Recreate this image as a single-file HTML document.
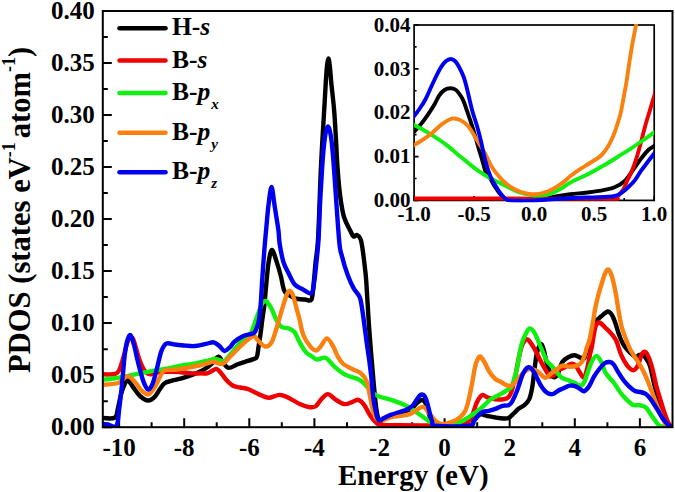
<!DOCTYPE html>
<html><head><meta charset="utf-8"><style>
html,body{margin:0;padding:0;background:#fff;width:675px;height:492px;overflow:hidden;}
svg{display:block;font-family:"Liberation Serif",serif;}
</style></head><body>
<svg width="675" height="492" viewBox="0 0 675 492">
<rect width="675" height="492" fill="#fff"/>
<path d="M119.1,427.2 V418.2 M151.6,427.2 V422.2 M184.2,427.2 V418.2 M216.7,427.2 V422.2 M249.3,427.2 V418.2 M281.8,427.2 V422.2 M314.4,427.2 V418.2 M347.0,427.2 V422.2 M379.5,427.2 V418.2 M412.1,427.2 V422.2 M444.6,427.2 V418.2 M477.2,427.2 V422.2 M509.7,427.2 V418.2 M542.3,427.2 V422.2 M574.8,427.2 V418.2 M607.4,427.2 V422.2 M639.9,427.2 V418.2 M102.8,427.2 H111.8 M102.8,401.2 H107.8 M102.8,375.2 H111.8 M102.8,349.2 H107.8 M102.8,323.1 H111.8 M102.8,297.1 H107.8 M102.8,271.1 H111.8 M102.8,245.1 H107.8 M102.8,219.1 H111.8 M102.8,193.1 H107.8 M102.8,167.1 H111.8 M102.8,141.1 H107.8 M102.8,115.0 H111.8 M102.8,89.0 H107.8 M102.8,63.0 H111.8 M102.8,37.0 H107.8 M102.8,11.0 H111.8" stroke="#000" stroke-width="2" fill="none"/>
<defs><clipPath id="cm"><rect x="102.8" y="11.0" width="569.7" height="416.2"/></clipPath>
<clipPath id="ci"><rect x="414.1" y="24.0" width="240.1" height="178.4"/></clipPath></defs>
<g clip-path="url(#cm)" fill="none" stroke-width="4.4" stroke-linejoin="round" stroke-linecap="round">
<path d="M100.0,417.8 C102.4,417.8 111.6,419.4 114.6,417.8 C117.6,416.2 116.8,412.5 118.0,408.0 C119.2,403.5 120.4,395.6 122.0,391.0 C123.6,386.4 125.6,381.1 127.4,380.4 C129.2,379.7 130.9,384.4 133.0,387.0 C135.1,389.6 137.5,393.8 140.0,396.0 C142.5,398.2 145.7,400.4 148.2,400.5 C150.7,400.6 153.0,398.5 154.9,396.6 C156.8,394.7 158.2,391.5 159.8,389.3 C161.4,387.1 162.6,384.6 164.6,383.2 C166.6,381.8 169.2,381.5 172.0,380.7 C174.8,379.9 178.2,379.3 181.7,378.3 C185.1,377.3 189.4,375.8 192.7,374.6 C195.9,373.4 198.8,372.2 201.2,371.0 C203.6,369.8 205.5,368.6 207.3,367.3 C209.1,366.1 210.2,365.2 212.0,363.5 C213.8,361.8 216.6,357.0 218.4,356.8 C220.2,356.6 221.3,360.6 223.0,362.5 C224.7,364.4 226.1,367.6 228.5,367.9 C230.9,368.2 234.9,365.3 237.7,364.3 C240.4,363.3 242.5,362.6 245.0,361.8 C247.5,361.0 250.7,360.2 252.7,359.4 C254.7,358.6 255.8,359.1 256.8,357.0 C257.8,354.9 257.9,350.8 258.5,347.0 C259.1,343.2 259.9,338.2 260.5,334.0 C261.1,329.8 261.4,326.9 262.0,322.0 C262.6,317.1 263.7,310.6 264.4,304.4 C265.1,298.2 265.5,292.1 266.2,285.0 C266.9,277.9 267.7,267.4 268.7,261.6 C269.7,255.8 270.7,250.0 272.0,250.0 C273.3,250.0 275.1,257.2 276.6,261.6 C278.1,266.0 279.9,272.3 280.9,276.2 C281.9,280.1 282.0,282.3 282.7,285.0 C283.4,287.7 283.5,290.2 285.1,292.2 C286.7,294.2 290.3,296.0 292.4,297.1 C294.5,298.2 295.7,298.6 297.8,299.0 C299.9,299.4 302.7,299.4 305.0,299.5 C307.3,299.6 310.0,302.1 311.4,299.7 C312.8,297.3 312.8,291.1 313.5,285.0 C314.2,278.9 314.8,270.5 315.5,263.0 C316.2,255.5 317.1,254.7 318.0,240.0 C318.9,225.3 319.9,191.7 320.6,175.0 C321.3,158.3 321.8,150.8 322.4,140.0 C323.0,129.2 323.6,119.7 324.2,110.0 C324.8,100.3 325.3,89.3 325.8,82.0 C326.3,74.7 326.6,69.9 327.0,66.0 C327.4,62.1 327.9,58.5 328.4,58.5 C328.9,58.5 329.3,62.1 329.8,66.0 C330.3,69.9 330.5,74.7 331.2,82.0 C331.9,89.3 333.3,100.3 334.1,110.0 C334.9,119.7 335.4,130.0 336.0,140.0 C336.6,150.0 336.9,160.3 337.7,170.0 C338.4,179.7 339.4,190.6 340.5,198.4 C341.6,206.2 342.4,211.8 344.0,217.0 C345.6,222.2 348.2,226.5 349.8,229.7 C351.4,232.9 352.3,235.5 353.5,236.4 C354.7,237.3 355.9,234.5 357.1,235.0 C358.3,235.5 359.7,236.6 360.6,239.2 C361.6,241.8 362.1,245.8 362.8,250.6 C363.5,255.3 364.3,262.5 364.9,267.7 C365.5,272.9 365.7,273.4 366.3,281.9 C366.9,290.3 367.8,307.6 368.5,318.4 C369.2,329.2 370.0,338.6 370.6,346.9 C371.2,355.2 371.8,360.5 372.4,368.0 C373.0,375.5 373.8,385.0 374.5,392.0 C375.2,399.0 375.7,405.2 376.5,410.0 C377.3,414.8 378.2,419.5 379.5,421.0 C380.8,422.5 382.1,419.8 384.0,419.0 C385.9,418.2 387.4,417.2 391.0,416.0 C394.6,414.8 402.0,412.9 405.6,411.5 C409.2,410.1 410.8,408.9 412.7,407.5 C414.6,406.1 415.5,404.2 417.0,403.0 C418.5,401.8 420.2,400.2 421.5,400.0 C422.8,399.8 423.6,400.3 424.5,401.5 C425.4,402.7 425.9,403.9 427.0,407.0 C428.1,410.1 429.5,416.9 431.0,420.0 C432.5,423.1 429.7,424.8 436.0,425.8 C442.3,426.8 462.7,426.8 469.0,425.8 C475.3,424.8 472.1,421.9 474.0,420.0 C475.9,418.1 478.0,415.2 480.2,414.5 C482.4,413.8 484.8,415.5 487.3,416.0 C489.8,416.5 492.7,417.1 495.4,417.5 C498.1,417.9 501.3,418.4 503.5,418.5 C505.7,418.6 506.9,418.8 508.6,418.0 C510.3,417.2 512.0,415.1 513.7,413.5 C515.4,411.9 517.0,409.8 518.8,408.4 C520.6,407.0 522.6,406.7 524.4,405.1 C526.1,403.5 528.0,402.1 529.3,399.0 C530.6,395.9 531.5,391.3 532.3,386.8 C533.1,382.3 533.4,377.5 534.1,372.2 C534.8,366.9 535.7,359.2 536.5,355.0 C537.3,350.8 538.2,348.5 539.0,346.7 C539.8,344.9 540.7,343.7 541.5,344.3 C542.3,344.9 543.1,347.6 543.9,350.4 C544.7,353.2 545.5,358.2 546.3,361.3 C547.1,364.4 548.0,366.4 548.8,368.7 C549.6,371.0 550.2,373.6 551.2,375.0 C552.2,376.4 553.7,377.6 554.9,377.1 C556.1,376.6 557.3,374.7 558.5,372.2 C559.7,369.7 560.6,364.5 562.3,362.0 C563.9,359.5 566.4,358.2 568.4,357.1 C570.4,356.0 572.5,355.1 574.5,355.2 C576.5,355.3 579.0,357.2 580.6,357.7 C582.2,358.2 582.7,361.2 584.3,358.3 C585.9,355.4 588.2,346.0 590.0,340.0 C591.8,334.0 593.8,325.9 595.0,322.5 C596.2,319.1 596.5,320.5 597.5,319.5 C598.5,318.5 599.8,317.5 601.0,316.5 C602.2,315.5 603.4,314.3 604.5,313.5 C605.6,312.7 606.8,311.6 607.8,311.5 C608.8,311.4 609.6,312.1 610.5,313.0 C611.4,313.9 612.2,315.2 613.0,317.0 C613.8,318.8 614.7,321.1 615.5,323.5 C616.3,325.9 617.2,329.0 618.0,331.5 C618.8,334.0 619.6,336.3 620.5,338.5 C621.4,340.7 622.4,342.7 623.5,344.5 C624.6,346.3 625.8,348.0 627.0,349.5 C628.2,351.0 629.6,352.2 631.0,353.5 C632.4,354.8 634.2,356.8 635.6,357.0 C637.0,357.2 638.1,355.3 639.3,355.0 C640.5,354.7 641.7,354.2 643.0,355.0 C644.3,355.8 645.8,358.1 647.0,360.0 C648.2,361.9 648.9,362.2 650.2,366.6 C651.5,371.0 653.2,380.5 654.7,386.2 C656.2,391.9 657.5,395.8 659.2,400.7 C660.9,405.6 663.1,411.2 664.8,415.3 C666.5,419.4 667.6,423.2 669.3,425.3 C671.0,427.4 674.0,427.6 675.0,428.0" stroke="#000000"/>
<path d="M100.0,374.0 C102.5,374.0 111.8,374.8 115.0,374.0 C118.2,373.2 118.1,372.3 119.5,369.5 C120.9,366.7 122.4,360.8 123.5,357.0 C124.6,353.2 125.2,349.9 126.0,347.0 C126.8,344.1 127.7,341.2 128.5,339.5 C129.3,337.8 130.2,336.9 131.0,337.0 C131.8,337.1 132.7,338.2 133.5,340.0 C134.3,341.8 135.1,344.9 136.0,348.0 C136.9,351.1 137.9,355.3 139.0,358.5 C140.1,361.7 141.3,364.7 142.5,367.0 C143.7,369.3 144.8,371.3 146.0,372.5 C147.2,373.7 148.3,374.3 150.0,374.3 C151.7,374.3 153.0,372.9 156.1,372.5 C159.2,372.1 164.2,371.7 168.3,371.6 C172.4,371.6 176.4,371.9 180.5,372.2 C184.6,372.5 189.2,373.2 192.7,373.4 C196.1,373.6 198.8,373.4 201.2,373.4 C203.6,373.4 205.4,373.7 207.2,373.3 C209.0,372.9 210.5,371.7 212.0,371.0 C213.5,370.3 214.8,368.6 216.3,368.9 C217.8,369.2 219.5,371.3 221.0,373.0 C222.5,374.7 223.6,376.9 225.5,379.0 C227.4,381.1 230.2,384.1 232.6,385.5 C235.0,386.9 237.3,386.9 240.0,387.5 C242.7,388.1 245.4,388.1 248.5,389.2 C251.6,390.3 255.2,392.7 258.5,394.1 C261.8,395.5 264.8,397.6 268.4,397.7 C271.9,397.8 276.2,394.8 279.8,394.9 C283.4,395.0 286.5,396.9 289.8,398.4 C293.1,399.9 296.4,402.6 299.7,404.1 C303.0,405.6 307.0,406.9 309.7,407.2 C312.4,407.5 313.8,407.5 315.7,406.2 C317.6,404.9 319.4,401.1 321.4,399.1 C323.4,397.1 325.6,394.1 327.8,394.1 C330.1,394.1 332.2,397.4 334.9,399.1 C337.6,400.8 341.1,403.6 344.1,404.1 C347.1,404.6 350.3,402.6 352.7,401.9 C355.1,401.2 356.5,399.3 358.4,399.8 C360.3,400.3 362.2,402.3 364.1,404.8 C366.0,407.3 367.8,411.9 369.7,414.7 C371.6,417.5 373.5,420.2 375.4,421.9 C377.3,423.6 376.9,424.2 381.0,424.8 C385.1,425.4 390.2,425.2 400.0,425.3 C409.8,425.4 430.0,425.5 440.0,425.5 C450.0,425.5 455.5,425.7 460.0,425.3 C464.5,424.9 465.2,424.6 467.2,423.0 C469.2,421.4 470.6,419.0 472.2,415.5 C473.8,412.0 475.3,405.4 477.0,402.0 C478.7,398.6 480.6,395.8 482.3,395.0 C484.0,394.2 485.1,396.6 487.3,397.3 C489.5,398.0 492.7,398.9 495.4,399.2 C498.1,399.5 501.3,399.5 503.5,399.2 C505.7,398.9 507.2,398.5 508.6,397.2 C510.0,395.9 510.8,393.6 511.7,391.1 C512.6,388.6 513.2,385.5 514.0,382.0 C514.8,378.5 515.7,374.2 516.5,370.0 C517.3,365.8 518.2,360.8 519.0,357.0 C519.8,353.2 520.6,349.7 521.5,347.0 C522.4,344.3 523.5,342.3 524.5,341.0 C525.5,339.7 526.2,338.8 527.4,339.4 C528.6,339.9 530.2,342.1 531.7,344.3 C533.2,346.5 535.0,349.8 536.6,352.8 C538.2,355.9 539.9,359.6 541.5,362.6 C543.1,365.7 544.9,368.8 546.3,371.1 C547.7,373.4 548.6,375.9 550.0,376.5 C551.4,377.1 553.5,375.7 554.9,374.6 C556.3,373.5 557.1,370.9 558.5,369.8 C559.9,368.7 561.4,369.0 563.5,368.0 C565.6,367.0 568.9,364.2 570.9,363.8 C572.9,363.4 574.3,364.3 575.7,365.6 C577.1,366.9 578.0,369.7 579.4,371.7 C580.8,373.7 582.5,378.1 583.8,377.5 C585.1,376.9 586.3,371.6 587.3,368.0 C588.3,364.4 588.9,359.5 589.7,355.9 C590.5,352.2 591.3,349.6 592.0,346.1 C592.7,342.6 593.1,338.4 593.8,335.0 C594.4,331.6 594.9,327.7 595.9,325.6 C596.9,323.5 597.9,322.1 599.5,322.5 C601.1,322.9 603.6,326.1 605.6,328.0 C607.6,329.9 609.9,331.9 611.7,334.1 C613.5,336.4 615.1,338.1 616.6,341.5 C618.1,344.9 619.2,350.4 621.0,354.4 C622.8,358.4 625.1,362.8 627.1,365.4 C629.1,368.0 631.4,370.2 633.2,370.2 C635.0,370.2 636.6,368.0 638.0,365.4 C639.4,362.8 640.5,356.6 641.7,354.4 C642.9,352.2 644.2,351.4 645.4,352.0 C646.6,352.6 647.8,355.2 649.0,358.0 C650.2,360.8 651.2,364.2 652.5,369.0 C653.8,373.8 655.1,381.2 656.5,386.5 C657.9,391.8 659.4,396.3 660.8,401.0 C662.2,405.7 663.7,410.8 665.0,414.5 C666.3,418.2 667.4,421.0 668.5,423.0 C669.6,425.0 670.4,425.7 671.5,426.5 C672.6,427.3 674.4,427.8 675.0,428.0" stroke="#f00000"/>
<path d="M100.0,380.0 C102.5,379.7 110.3,379.0 115.0,378.3 C119.7,377.6 123.8,376.6 128.0,375.8 C132.2,375.0 136.3,374.1 140.0,373.3 C143.7,372.6 146.3,372.0 150.0,371.3 C153.7,370.6 158.1,370.0 162.2,369.3 C166.3,368.6 170.3,367.8 174.4,367.0 C178.5,366.2 182.5,365.4 186.6,364.7 C190.7,364.0 194.9,363.4 198.8,362.6 C202.7,361.9 207.5,360.8 210.0,360.2 C212.5,359.6 212.5,358.8 214.0,358.8 C215.5,358.8 217.2,359.6 219.0,360.0 C220.8,360.4 222.6,362.0 224.5,361.0 C226.4,360.0 228.4,356.6 230.6,354.0 C232.8,351.4 235.6,347.8 237.7,345.5 C239.8,343.2 240.9,341.8 243.0,340.0 C245.1,338.2 248.3,337.0 250.0,335.0 C251.7,333.0 251.9,330.8 253.0,328.0 C254.1,325.2 255.4,321.0 256.5,318.0 C257.6,315.0 258.5,312.5 259.5,310.0 C260.5,307.5 261.4,304.5 262.5,303.0 C263.6,301.5 264.9,300.9 265.9,301.0 C266.9,301.1 267.5,302.5 268.5,303.8 C269.5,305.1 270.3,306.2 271.7,309.0 C273.1,311.8 275.0,317.5 276.6,320.5 C278.2,323.5 279.5,325.5 281.5,326.8 C283.5,328.1 286.6,327.6 288.8,328.5 C291.0,329.4 293.0,330.2 294.5,332.0 C296.0,333.8 296.8,336.6 298.0,339.0 C299.2,341.4 300.6,344.2 302.0,346.5 C303.4,348.8 304.5,350.8 306.2,352.5 C307.9,354.2 310.2,355.3 312.0,356.5 C313.8,357.7 314.8,359.3 317.1,359.5 C319.4,359.7 322.8,356.7 325.6,357.8 C328.5,358.9 330.9,363.5 334.2,366.4 C337.5,369.2 341.6,372.8 345.6,374.9 C349.6,377.0 355.1,377.5 358.4,379.2 C361.7,380.9 363.4,382.8 365.5,384.9 C367.6,387.0 369.1,390.1 371.2,392.0 C373.3,393.9 374.9,395.0 378.3,396.3 C381.7,397.6 386.8,398.3 391.3,399.8 C395.9,401.3 401.3,403.4 405.6,405.5 C409.9,407.6 413.3,410.2 416.9,412.6 C420.4,415.0 424.4,418.0 426.9,419.7 C429.4,421.4 429.8,422.1 432.0,423.0 C434.2,423.9 437.3,424.5 440.0,424.8 C442.7,425.1 444.9,425.1 448.3,424.6 C451.7,424.1 457.1,423.1 460.5,421.8 C463.9,420.5 465.9,419.0 469.0,417.0 C472.1,415.0 475.9,412.2 478.8,410.0 C481.7,407.8 484.2,405.3 486.1,403.6 C488.0,401.9 487.9,401.2 490.3,399.6 C492.7,398.0 497.4,395.9 500.5,394.1 C503.6,392.4 506.7,390.4 508.6,389.1 C510.5,387.8 510.8,388.3 511.7,386.5 C512.6,384.7 513.3,381.7 514.3,378.3 C515.3,374.9 516.4,371.6 517.5,366.1 C518.6,360.6 519.8,351.0 521.2,345.5 C522.6,340.0 524.5,336.2 526.0,333.3 C527.5,330.4 528.4,328.4 529.9,328.4 C531.4,328.4 533.3,330.9 534.8,333.3 C536.3,335.7 537.7,339.9 539.0,343.0 C540.3,346.1 541.5,348.8 542.7,351.6 C543.9,354.5 544.9,357.8 546.3,360.1 C547.7,362.4 549.6,363.7 551.2,365.5 C552.8,367.3 554.5,369.0 556.1,371.0 C557.8,373.0 559.2,375.8 561.1,377.3 C563.0,378.8 565.0,378.9 567.2,379.8 C569.4,380.7 572.3,381.8 574.5,382.8 C576.7,383.8 579.0,385.7 580.6,385.6 C582.2,385.5 583.1,384.3 584.3,382.0 C585.5,379.7 586.7,375.0 587.9,371.7 C589.1,368.4 590.2,364.6 591.6,362.0 C593.0,359.4 594.9,355.9 596.5,355.9 C598.1,355.9 599.9,359.4 601.3,362.0 C602.7,364.6 603.5,368.9 605.0,371.7 C606.5,374.4 608.5,376.7 610.0,378.5 C611.5,380.3 612.4,380.8 613.7,382.5 C615.0,384.2 616.4,386.7 618.0,389.0 C619.6,391.3 621.0,393.7 623.4,396.3 C625.8,398.9 629.8,403.1 632.4,404.6 C635.0,406.1 636.9,404.7 639.1,405.2 C641.3,405.7 643.8,405.7 645.8,407.4 C647.8,409.1 649.5,412.7 651.4,415.3 C653.3,417.9 655.3,421.2 657.0,423.1 C658.7,425.0 658.5,425.7 661.5,426.5 C664.5,427.3 672.8,427.8 675.0,428.0" stroke="#10f010"/>
<path d="M100.0,385.0 C103.0,384.7 113.4,384.5 118.0,383.0 C122.6,381.5 124.6,376.3 127.4,376.1 C130.2,375.9 132.7,379.7 135.0,382.0 C137.3,384.3 138.8,387.9 141.0,390.0 C143.2,392.1 145.9,394.9 148.2,394.4 C150.5,393.9 153.0,389.7 154.9,386.8 C156.8,383.9 158.2,379.8 159.8,377.1 C161.4,374.4 162.2,371.6 164.6,370.4 C167.0,369.2 170.7,370.2 174.4,369.8 C178.1,369.4 182.5,368.6 186.6,367.9 C190.7,367.2 195.2,366.3 198.8,365.5 C202.5,364.7 206.1,363.6 208.5,363.0 C210.9,362.4 211.0,361.7 213.3,361.8 C215.6,361.9 219.5,364.7 222.4,363.8 C225.3,362.9 227.7,359.0 230.6,356.2 C233.5,353.4 236.9,349.7 239.7,347.0 C242.5,344.3 245.2,341.7 247.6,339.9 C250.0,338.1 252.3,335.9 254.0,336.0 C255.7,336.1 256.1,338.8 258.0,340.5 C259.9,342.2 263.1,346.2 265.4,346.5 C267.6,346.8 269.7,345.2 271.5,342.5 C273.3,339.8 274.7,334.1 276.0,330.0 C277.3,325.9 278.2,322.3 279.5,318.0 C280.8,313.7 282.2,308.4 283.5,304.4 C284.8,300.4 286.0,296.2 287.0,294.0 C288.0,291.8 288.5,291.0 289.4,291.0 C290.3,291.0 291.6,292.2 292.5,294.0 C293.4,295.8 294.1,299.0 294.9,302.0 C295.7,305.0 296.8,309.3 297.5,312.0 C298.2,314.7 298.3,314.5 299.3,318.4 C300.3,322.3 301.6,330.8 303.5,335.5 C305.4,340.2 308.5,344.4 310.6,346.9 C312.7,349.4 314.6,350.6 316.3,350.5 C318.0,350.4 319.2,348.0 321.0,346.0 C322.8,344.0 324.9,338.2 327.0,338.4 C329.1,338.5 331.7,344.1 333.4,346.9 C335.1,349.7 335.4,352.2 337.0,355.0 C338.6,357.8 340.1,361.1 342.7,363.5 C345.3,365.9 349.6,367.5 352.7,369.2 C355.8,370.9 358.8,371.4 361.2,373.5 C363.6,375.6 365.5,378.4 366.9,382.0 C368.3,385.6 368.8,390.3 369.7,394.8 C370.6,399.3 371.6,405.1 372.6,409.0 C373.7,412.9 374.6,416.1 376.0,418.0 C377.4,419.9 378.4,420.6 381.0,420.5 C383.6,420.4 386.5,418.3 391.3,417.2 C396.1,416.1 404.6,415.8 409.8,414.1 C415.0,412.4 419.3,406.9 422.6,406.9 C425.9,406.9 427.4,411.7 429.7,414.1 C431.9,416.5 434.0,419.8 436.1,421.5 C438.2,423.2 439.6,424.1 442.2,424.2 C444.8,424.2 448.9,423.0 452.0,421.8 C455.1,420.6 458.3,418.7 460.5,416.8 C462.7,414.9 464.0,413.6 465.4,410.5 C466.8,407.4 467.9,403.2 469.0,398.5 C470.1,393.8 471.3,387.3 472.3,382.2 C473.3,377.1 474.0,371.7 474.8,368.0 C475.6,364.3 476.4,361.9 477.3,360.0 C478.2,358.1 478.9,356.2 480.1,356.5 C481.3,356.8 482.9,359.5 484.4,362.0 C485.9,364.5 487.5,368.9 489.3,371.7 C491.1,374.5 493.6,377.4 495.4,379.0 C497.2,380.6 498.4,380.5 500.2,381.5 C502.0,382.5 504.5,384.4 506.3,385.1 C508.1,385.8 509.6,386.3 511.2,385.7 C512.8,385.1 514.3,383.4 516.1,381.5 C517.9,379.6 520.0,376.0 522.0,374.0 C524.0,372.0 526.2,370.2 528.0,369.5 C529.8,368.8 531.4,369.2 533.0,369.5 C534.6,369.8 535.8,370.1 537.8,371.5 C539.8,372.9 542.9,377.4 545.1,377.7 C547.3,378.0 549.2,374.8 551.2,373.4 C553.2,372.0 555.4,370.4 557.3,369.1 C559.1,367.8 560.2,366.0 562.3,365.6 C564.3,365.2 567.1,366.8 569.6,366.8 C572.1,366.8 575.0,366.4 577.0,365.6 C579.0,364.8 580.5,363.8 581.8,362.0 C583.1,360.2 583.8,357.5 584.7,355.0 C585.6,352.5 586.2,349.5 587.0,347.0 C587.8,344.5 588.6,343.8 589.5,340.0 C590.4,336.2 591.5,329.7 592.5,324.4 C593.5,319.1 594.3,313.1 595.3,308.0 C596.3,302.9 597.4,298.5 598.6,294.0 C599.8,289.5 601.4,284.6 602.5,281.0 C603.6,277.4 604.6,274.4 605.5,272.5 C606.4,270.6 607.2,269.5 608.0,269.5 C608.8,269.5 609.7,270.8 610.5,272.5 C611.3,274.2 612.1,276.8 612.9,280.0 C613.7,283.2 614.7,288.0 615.5,292.0 C616.3,296.0 616.9,300.2 617.5,304.0 C618.1,307.8 618.6,311.2 619.3,315.0 C620.0,318.8 620.7,323.3 621.7,327.0 C622.7,330.7 623.7,333.3 625.1,337.0 C626.5,340.7 628.4,345.7 630.0,349.0 C631.6,352.3 633.4,354.5 634.9,357.0 C636.4,359.5 637.8,361.4 639.3,364.0 C640.8,366.6 642.6,369.5 644.1,372.7 C645.6,375.9 647.3,379.9 648.5,383.0 C649.7,386.1 650.4,388.1 651.5,391.0 C652.6,393.9 653.7,396.8 655.2,400.7 C656.7,404.6 659.0,410.4 660.6,414.1 C662.2,417.8 663.8,421.0 665.0,423.1 C666.2,425.2 666.3,425.7 668.0,426.5 C669.7,427.3 673.8,427.8 675.0,428.0" stroke="#fa8010"/>
<path d="M100.0,423.7 C101.3,423.8 105.2,424.1 108.0,424.5 C110.8,424.9 114.6,428.6 116.5,425.8 C118.4,423.1 118.5,414.0 119.3,408.0 C120.1,402.0 120.7,396.3 121.4,390.0 C122.1,383.7 122.7,376.2 123.3,370.0 C123.9,363.8 124.3,357.8 125.0,353.0 C125.7,348.2 126.3,344.0 127.2,341.0 C128.1,338.0 129.4,334.3 130.5,335.0 C131.6,335.7 132.9,341.2 134.0,345.0 C135.1,348.8 136.0,353.8 137.0,358.0 C138.0,362.2 138.8,365.8 140.0,370.0 C141.2,374.2 142.6,379.8 144.0,383.0 C145.4,386.2 146.8,389.3 148.2,389.5 C149.6,389.7 151.1,387.4 152.5,384.0 C153.9,380.6 155.7,373.2 156.8,369.0 C157.9,364.8 158.5,361.7 159.3,358.5 C160.1,355.3 160.6,352.5 161.8,350.0 C163.0,347.5 164.3,344.4 166.5,343.5 C168.7,342.6 171.8,344.1 175.0,344.5 C178.2,344.9 182.2,345.4 185.5,345.6 C188.8,345.9 191.6,346.3 195.0,346.0 C198.4,345.7 203.1,344.4 206.2,343.8 C209.3,343.2 211.5,341.9 213.7,342.3 C215.9,342.7 217.6,344.6 219.4,346.0 C221.2,347.4 222.6,350.9 224.5,351.0 C226.4,351.1 228.9,348.1 230.6,346.5 C232.2,344.9 232.3,343.4 234.4,341.7 C236.5,340.0 240.1,337.5 242.9,336.2 C245.8,334.9 249.6,334.4 251.5,333.8 C253.4,333.2 253.7,333.5 254.6,332.4 C255.5,331.3 256.3,329.1 257.0,327.0 C257.7,324.9 258.3,323.8 258.9,320.0 C259.5,316.2 260.1,311.1 260.7,304.4 C261.2,297.7 261.6,289.2 262.2,280.0 C262.8,270.8 263.7,258.1 264.4,249.4 C265.1,240.7 265.6,235.4 266.3,228.0 C267.0,220.6 267.6,211.8 268.5,205.0 C269.4,198.2 270.5,187.0 271.5,187.0 C272.5,187.0 273.4,197.8 274.5,205.0 C275.6,212.2 277.5,223.6 278.4,230.0 C279.2,236.4 278.8,238.0 279.6,243.3 C280.4,248.6 281.8,256.5 283.3,261.6 C284.8,266.7 286.9,269.9 288.8,273.8 C290.8,277.7 292.8,282.3 295.0,284.8 C297.2,287.3 299.4,287.6 302.1,289.0 C304.8,290.4 309.4,294.5 311.4,293.3 C313.4,292.1 313.4,287.0 314.2,282.0 C315.0,277.0 315.6,270.4 316.3,263.4 C317.0,256.4 317.9,249.7 318.5,240.0 C319.1,230.3 319.4,216.7 320.0,205.0 C320.6,193.3 321.4,179.2 322.0,170.0 C322.6,160.8 323.0,155.5 323.5,150.0 C324.0,144.5 324.5,140.4 325.0,137.0 C325.5,133.6 326.0,131.2 326.5,129.5 C327.0,127.8 327.5,126.5 328.0,126.5 C328.5,126.5 329.0,127.8 329.5,129.5 C330.0,131.2 330.5,133.6 331.0,137.0 C331.5,140.4 332.0,144.5 332.5,150.0 C333.0,155.5 333.0,155.0 334.1,170.0 C335.2,185.0 337.8,225.6 339.1,240.0 C340.4,254.4 340.6,250.5 342.0,256.3 C343.4,262.1 345.7,269.6 347.6,274.8 C349.5,280.0 351.5,284.3 353.3,287.6 C355.1,290.9 357.1,292.6 358.3,294.7 C359.5,296.8 359.7,296.1 360.6,300.0 C361.5,303.9 362.6,311.8 363.5,318.4 C364.4,325.0 365.4,332.9 366.3,339.8 C367.2,346.7 368.4,353.9 369.2,360.0 C370.0,366.1 370.5,370.0 371.2,376.3 C371.9,382.6 372.6,392.1 373.3,397.7 C374.0,403.3 374.8,406.6 375.5,410.0 C376.2,413.4 376.8,416.2 377.5,418.0 C378.2,419.8 378.4,420.5 379.5,420.5 C380.6,420.5 382.0,419.0 384.0,418.0 C386.0,417.0 387.7,415.9 391.3,414.6 C394.9,413.3 402.0,411.5 405.6,410.0 C409.2,408.5 410.9,407.2 412.7,405.5 C414.5,403.8 415.4,401.6 416.5,400.0 C417.6,398.4 418.6,396.6 419.5,395.7 C420.4,394.8 421.2,394.4 422.0,394.5 C422.8,394.6 423.7,394.8 424.5,396.0 C425.3,397.2 426.2,399.3 427.0,402.0 C427.8,404.7 428.7,408.8 429.5,412.0 C430.3,415.2 430.9,418.7 432.0,421.0 C433.1,423.3 429.8,425.0 436.0,425.8 C442.2,426.6 462.7,426.6 469.0,425.8 C475.3,425.0 472.3,422.8 473.9,421.0 C475.5,419.2 477.2,416.4 478.8,414.8 C480.4,413.2 482.1,412.2 483.7,411.6 C485.3,411.0 486.4,411.3 488.3,410.9 C490.2,410.4 493.0,409.8 495.4,408.9 C497.8,408.0 500.3,406.4 502.5,405.8 C504.7,405.2 507.0,406.0 508.6,405.3 C510.2,404.6 510.8,404.0 512.2,401.5 C513.6,399.0 515.3,395.2 517.1,390.5 C518.9,385.8 521.3,377.3 523.2,373.4 C525.1,369.5 526.9,367.5 528.7,367.3 C530.5,367.1 532.2,369.4 534.1,372.2 C536.0,375.0 538.2,381.0 540.2,384.4 C542.2,387.8 544.3,390.7 546.3,392.3 C548.3,393.9 550.4,394.4 552.4,394.1 C554.4,393.8 556.9,391.4 558.5,390.5 C560.1,389.6 560.4,389.6 562.3,388.8 C564.1,388.0 567.4,386.1 569.6,385.7 C571.8,385.3 573.9,385.7 575.7,386.3 C577.5,386.9 579.2,388.6 580.6,389.4 C582.0,390.2 582.9,391.7 584.3,391.2 C585.7,390.7 587.5,388.7 589.1,386.3 C590.7,383.9 592.2,379.7 594.0,376.6 C595.8,373.6 598.3,370.3 600.1,368.0 C601.9,365.7 603.4,364.0 605.0,363.0 C606.6,362.0 608.4,361.8 609.9,362.0 C611.4,362.2 612.3,362.7 613.7,364.5 C615.1,366.3 616.9,370.1 618.5,372.7 C620.1,375.3 621.6,377.6 623.4,380.0 C625.2,382.4 627.6,385.0 629.5,386.8 C631.4,388.6 632.7,389.9 634.5,390.8 C636.3,391.7 638.5,391.6 640.2,392.0 C642.0,392.4 643.6,392.8 645.0,393.5 C646.4,394.2 647.2,395.1 648.5,396.5 C649.8,397.9 650.9,399.4 652.5,401.8 C654.1,404.2 656.2,407.8 658.1,410.8 C660.0,413.8 661.8,417.2 663.7,419.7 C665.6,422.2 667.4,424.5 669.3,425.9 C671.2,427.3 674.0,427.6 675.0,428.0" stroke="#0000f0"/>
</g>
<rect x="102.8" y="11.0" width="569.7" height="416.2" fill="none" stroke="#000" stroke-width="2"/>
<rect x="414.1" y="25.0" width="240.1" height="175.4" fill="#fff"/>
<path d="M414.1,200.4 V195.9 M444.1,200.4 V197.9 M474.1,200.4 V195.9 M504.1,200.4 V197.9 M534.2,200.4 V195.9 M564.2,200.4 V197.9 M594.2,200.4 V195.9 M624.2,200.4 V197.9 M654.2,200.4 V195.9 M414.1,200.4 H418.6 M414.1,178.5 H416.6 M414.1,156.6 H418.6 M414.1,134.6 H416.6 M414.1,112.7 H418.6 M414.1,90.8 H416.6 M414.1,68.9 H418.6 M414.1,46.9 H416.6 M414.1,25.0 H418.6" stroke="#000" stroke-width="1.6" fill="none"/>
<rect x="414.1" y="25.0" width="240.1" height="175.4" fill="none" stroke="#000" stroke-width="1.7"/>
<g clip-path="url(#ci)" fill="none" stroke-width="3.9" stroke-linejoin="round" stroke-linecap="round">
<path d="M410.0,134.0 C410.7,133.6 412.5,133.1 414.1,131.7 C415.7,130.3 417.6,128.2 419.8,125.6 C422.0,123.0 424.7,119.4 427.1,115.9 C429.5,112.4 432.4,107.9 434.4,104.5 C436.4,101.1 437.6,97.7 439.3,95.3 C441.0,92.9 442.6,91.2 444.5,90.0 C446.4,88.8 448.6,88.3 450.5,88.3 C452.4,88.3 454.3,88.8 456.0,90.0 C457.7,91.2 459.2,93.6 460.5,95.5 C461.8,97.4 462.6,98.8 463.7,101.5 C464.8,104.2 466.1,108.2 467.3,111.7 C468.5,115.2 469.8,119.0 471.0,122.7 C472.2,126.4 473.4,129.9 474.6,134.0 C475.8,138.1 477.1,143.0 478.3,147.2 C479.5,151.4 480.8,155.3 482.0,159.4 C483.2,163.5 484.2,168.4 485.6,171.6 C487.0,174.8 488.8,176.0 490.3,178.5 C491.8,181.0 493.3,184.1 494.8,186.5 C496.3,188.9 497.9,191.2 499.3,193.0 C500.8,194.8 501.7,196.4 503.5,197.5 C505.3,198.6 503.9,199.2 510.0,199.6 C516.1,199.9 532.6,200.1 540.0,199.6 C547.4,199.1 549.2,197.6 554.2,196.7 C559.2,195.8 564.5,195.0 570.0,194.3 C575.5,193.6 581.5,193.2 587.3,192.5 C593.0,191.8 600.0,190.8 604.5,189.9 C609.0,189.0 611.3,188.8 614.6,187.3 C617.9,185.9 621.4,184.0 624.4,181.2 C627.4,178.3 630.0,174.1 632.9,170.2 C635.8,166.3 638.9,161.4 641.5,158.0 C644.1,154.6 646.7,151.5 648.8,149.5 C650.9,147.5 652.3,147.5 654.2,145.9 C656.1,144.3 659.0,141.0 660.0,140.0" stroke="#000000"/>
<path d="M410.0,198.5 C410.7,198.5 399.1,198.5 414.1,198.5 C429.1,198.5 467.7,198.4 500.0,198.5 C532.3,198.6 589.0,198.8 608.0,198.8 C627.0,198.8 612.3,199.0 614.0,198.5 C615.7,198.0 616.8,197.1 618.0,196.0 C619.2,194.9 620.4,193.5 621.5,192.0 C622.6,190.5 623.5,189.0 624.5,187.0 C625.5,185.0 626.3,182.6 627.5,180.0 C628.7,177.4 630.2,175.2 631.7,171.5 C633.2,167.8 635.0,162.9 636.5,158.0 C638.0,153.1 639.6,147.3 641.0,142.2 C642.4,137.1 643.4,132.5 644.8,127.4 C646.2,122.3 647.9,116.8 649.5,111.6 C651.1,106.4 652.5,101.6 654.2,96.0 C656.0,90.4 659.0,81.0 660.0,78.0" stroke="#f00000"/>
<path d="M410.0,123.0 C410.7,123.3 412.1,124.0 414.1,125.0 C416.1,126.0 418.8,127.4 422.2,129.3 C425.6,131.2 430.3,134.0 434.4,136.6 C438.5,139.2 442.5,141.9 446.6,145.1 C450.7,148.2 455.1,152.3 459.0,155.5 C462.9,158.7 466.4,161.6 469.8,164.3 C473.2,167.0 476.2,169.4 479.5,171.6 C482.8,173.8 486.1,175.9 489.3,177.7 C492.6,179.5 495.8,181.0 499.0,182.6 C502.2,184.2 505.5,185.8 508.8,187.4 C512.1,189.0 514.5,190.8 518.7,192.2 C522.9,193.5 529.2,195.1 534.1,195.5 C539.0,195.9 543.8,195.6 548.3,194.4 C552.8,193.2 557.7,190.4 561.4,188.4 C565.1,186.4 566.2,184.8 570.5,182.5 C574.8,180.2 581.6,177.4 587.3,174.5 C593.0,171.6 599.3,168.0 604.5,165.0 C609.7,162.0 614.0,159.2 618.3,156.5 C622.6,153.8 626.4,151.5 630.5,148.8 C634.6,146.1 638.8,143.2 642.7,140.5 C646.7,137.8 651.3,134.4 654.2,132.5 C657.1,130.6 659.0,129.6 660.0,129.0" stroke="#10f010"/>
<path d="M410.0,148.0 C410.7,147.5 412.1,146.4 414.1,145.1 C416.1,143.8 419.2,142.2 422.2,140.2 C425.2,138.2 428.8,135.5 432.0,132.9 C435.2,130.3 438.4,126.8 441.7,124.4 C445.0,122.0 448.9,119.3 452.0,118.6 C455.1,117.9 457.6,119.1 460.0,120.0 C462.4,120.9 464.3,122.5 466.1,124.2 C467.9,125.9 469.4,127.6 471.0,130.0 C472.6,132.4 474.7,136.4 475.9,138.5 C477.1,140.6 476.7,139.6 478.3,142.3 C479.9,145.0 483.4,150.4 485.6,154.5 C487.8,158.6 489.5,163.0 491.7,166.7 C493.9,170.4 496.6,173.7 499.0,176.5 C501.4,179.3 503.9,181.8 506.3,183.8 C508.8,185.8 511.4,187.4 513.7,188.7 C516.0,190.0 516.6,190.7 520.0,191.6 C523.4,192.5 529.4,194.4 534.1,194.3 C538.8,194.2 543.8,193.1 548.3,191.3 C552.8,189.5 557.7,186.2 561.4,183.7 C565.1,181.1 567.6,178.3 570.5,176.0 C573.4,173.7 575.2,172.3 578.6,170.1 C582.0,167.8 587.0,164.9 590.7,162.5 C594.5,160.1 598.2,158.2 601.1,155.5 C604.0,152.8 606.0,149.8 608.0,146.5 C610.0,143.2 611.6,139.8 613.2,136.0 C614.8,132.2 616.2,127.9 617.5,123.8 C618.8,119.7 619.9,116.7 621.0,111.6 C622.1,106.5 623.4,98.6 624.4,93.3 C625.4,88.0 626.0,85.1 626.8,80.0 C627.6,74.9 628.4,68.6 629.3,62.7 C630.2,56.8 631.2,50.7 632.3,44.4 C633.4,38.1 635.2,29.4 636.0,25.0 C636.8,20.6 636.8,19.2 637.0,18.0" stroke="#fa8010"/>
<path d="M410.0,121.0 C410.7,120.2 412.5,118.1 414.1,116.0 C415.7,113.9 417.8,111.4 419.8,108.5 C421.8,105.6 423.7,102.8 425.9,98.5 C428.1,94.2 430.8,87.6 433.2,82.5 C435.6,77.4 438.4,71.5 440.5,68.0 C442.6,64.5 443.8,63.0 445.5,61.5 C447.2,60.0 449.2,59.0 450.9,59.0 C452.6,59.0 454.2,60.2 455.5,61.5 C456.8,62.8 457.4,63.9 458.8,66.5 C460.2,69.1 462.3,73.1 463.7,77.0 C465.1,80.9 465.9,84.4 467.3,90.0 C468.7,95.6 470.6,104.5 472.2,110.5 C473.8,116.5 475.7,121.4 477.1,126.3 C478.5,131.2 479.3,134.1 480.7,140.0 C482.1,145.9 484.0,155.7 485.6,161.8 C487.2,167.9 488.9,172.6 490.5,176.5 C492.1,180.4 493.8,182.8 495.4,185.5 C497.0,188.2 498.6,190.8 500.2,193.0 C501.8,195.2 503.4,197.3 505.0,198.5 C506.6,199.7 505.8,200.1 510.0,200.4 C514.2,200.8 524.2,200.7 530.0,200.6 C535.8,200.5 539.0,200.2 545.0,199.8 C551.0,199.4 556.2,198.8 566.1,198.3 C576.0,197.8 596.4,197.4 604.5,197.0 C612.6,196.6 612.0,196.8 614.9,196.0 C617.8,195.2 619.8,193.8 621.8,192.5 C623.8,191.2 624.8,190.4 626.8,188.5 C628.8,186.6 631.6,184.2 634.1,181.2 C636.6,178.1 639.0,173.6 641.5,170.2 C644.0,166.8 646.7,163.3 648.8,160.5 C650.9,157.7 652.3,155.9 654.2,153.5 C656.1,151.1 659.0,147.2 660.0,146.0" stroke="#0000f0"/>
</g>
<text x="119.1" y="456.0" font-family="Liberation Serif" font-weight="bold" font-size="25" text-anchor="middle">-10</text>
<text x="184.2" y="456.0" font-family="Liberation Serif" font-weight="bold" font-size="25" text-anchor="middle">-8</text>
<text x="249.3" y="456.0" font-family="Liberation Serif" font-weight="bold" font-size="25" text-anchor="middle">-6</text>
<text x="314.4" y="456.0" font-family="Liberation Serif" font-weight="bold" font-size="25" text-anchor="middle">-4</text>
<text x="379.5" y="456.0" font-family="Liberation Serif" font-weight="bold" font-size="25" text-anchor="middle">-2</text>
<text x="444.6" y="456.0" font-family="Liberation Serif" font-weight="bold" font-size="25" text-anchor="middle">0</text>
<text x="509.7" y="456.0" font-family="Liberation Serif" font-weight="bold" font-size="25" text-anchor="middle">2</text>
<text x="574.8" y="456.0" font-family="Liberation Serif" font-weight="bold" font-size="25" text-anchor="middle">4</text>
<text x="639.9" y="456.0" font-family="Liberation Serif" font-weight="bold" font-size="25" text-anchor="middle">6</text>
<text x="94.7" y="434.7" font-family="Liberation Serif" font-weight="bold" font-size="25" text-anchor="end">0.00</text>
<text x="94.7" y="382.7" font-family="Liberation Serif" font-weight="bold" font-size="25" text-anchor="end">0.05</text>
<text x="94.7" y="330.6" font-family="Liberation Serif" font-weight="bold" font-size="25" text-anchor="end">0.10</text>
<text x="94.7" y="278.6" font-family="Liberation Serif" font-weight="bold" font-size="25" text-anchor="end">0.15</text>
<text x="94.7" y="226.6" font-family="Liberation Serif" font-weight="bold" font-size="25" text-anchor="end">0.20</text>
<text x="94.7" y="174.6" font-family="Liberation Serif" font-weight="bold" font-size="25" text-anchor="end">0.25</text>
<text x="94.7" y="122.5" font-family="Liberation Serif" font-weight="bold" font-size="25" text-anchor="end">0.30</text>
<text x="94.7" y="70.5" font-family="Liberation Serif" font-weight="bold" font-size="25" text-anchor="end">0.35</text>
<text x="94.7" y="18.5" font-family="Liberation Serif" font-weight="bold" font-size="25" text-anchor="end">0.40</text>
<text x="414.1" y="220.8" font-family="Liberation Serif" font-weight="bold" font-size="21" text-anchor="middle">-1.0</text>
<text x="474.1" y="220.8" font-family="Liberation Serif" font-weight="bold" font-size="21" text-anchor="middle">-0.5</text>
<text x="534.2" y="220.8" font-family="Liberation Serif" font-weight="bold" font-size="21" text-anchor="middle">0.0</text>
<text x="594.2" y="220.8" font-family="Liberation Serif" font-weight="bold" font-size="21" text-anchor="middle">0.5</text>
<text x="654.2" y="220.8" font-family="Liberation Serif" font-weight="bold" font-size="21" text-anchor="middle">1.0</text>
<text x="410.5" y="207.0" font-family="Liberation Serif" font-weight="bold" font-size="21" text-anchor="end">0.00</text>
<text x="410.5" y="163.2" font-family="Liberation Serif" font-weight="bold" font-size="21" text-anchor="end">0.01</text>
<text x="410.5" y="119.3" font-family="Liberation Serif" font-weight="bold" font-size="21" text-anchor="end">0.02</text>
<text x="410.5" y="75.5" font-family="Liberation Serif" font-weight="bold" font-size="21" text-anchor="end">0.03</text>
<text x="410.5" y="31.6" font-family="Liberation Serif" font-weight="bold" font-size="21" text-anchor="end">0.04</text>
<text x="338.0" y="484.6" font-family="Liberation Serif" font-weight="bold" font-size="29">Energy (eV)</text>
<text transform="translate(30.1,373.0) rotate(-90)" font-family="Liberation Serif" font-weight="bold" font-size="30.6">PDOS (states eV<tspan dy="-15" font-size="18">-1</tspan><tspan dy="15" dx="4">atom</tspan><tspan dy="-15" font-size="18">-1</tspan><tspan dy="15">)</tspan></text>
<line x1="119.5" y1="28.3" x2="165.5" y2="28.3" stroke="#000000" stroke-width="4.5" stroke-linecap="round"/>
<text x="172.0" y="35.3" font-family="Liberation Serif" font-weight="bold" font-size="25.5">H-<tspan font-style="italic">s</tspan></text>
<line x1="119.5" y1="60.5" x2="165.5" y2="60.5" stroke="#f00000" stroke-width="4.5" stroke-linecap="round"/>
<text x="172.0" y="67.5" font-family="Liberation Serif" font-weight="bold" font-size="25.5">B-<tspan font-style="italic">s</tspan></text>
<line x1="119.5" y1="92.9" x2="165.5" y2="92.9" stroke="#10f010" stroke-width="4.5" stroke-linecap="round"/>
<text x="172.0" y="99.9" font-family="Liberation Serif" font-weight="bold" font-size="25.5">B-<tspan font-style="italic">p</tspan><tspan font-style="italic" font-size="15" dx="1" dy="9">x</tspan></text>
<line x1="119.5" y1="132.7" x2="165.5" y2="132.7" stroke="#fa8010" stroke-width="4.5" stroke-linecap="round"/>
<text x="172.0" y="139.7" font-family="Liberation Serif" font-weight="bold" font-size="25.5">B-<tspan font-style="italic">p</tspan><tspan font-style="italic" font-size="15" dx="1" dy="9">y</tspan></text>
<line x1="119.5" y1="172.3" x2="165.5" y2="172.3" stroke="#0000f0" stroke-width="4.5" stroke-linecap="round"/>
<text x="172.0" y="179.3" font-family="Liberation Serif" font-weight="bold" font-size="25.5">B-<tspan font-style="italic">p</tspan><tspan font-style="italic" font-size="15" dx="1" dy="9">z</tspan></text>
</svg>
</body></html>
